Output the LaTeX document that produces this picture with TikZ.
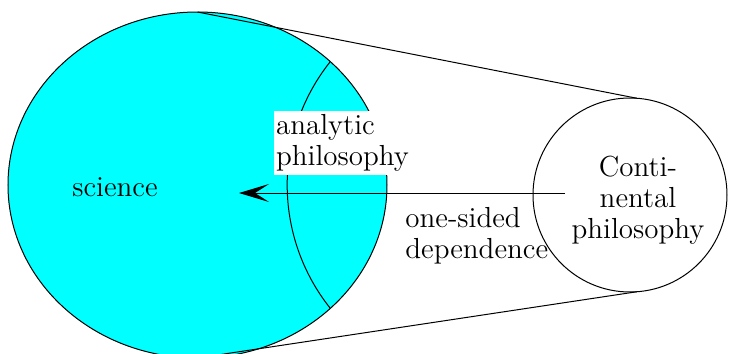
\documentclass[tikz,border=0pt]{standalone}
\usepackage{fontspec}
\usetikzlibrary{positioning,arrows.meta,shapes.geometric}
\definecolor{scicyan}{RGB}{0,255,255}

\begin{document}
\begin{tikzpicture}[
    x=0.5pt, y=0.5pt,
    font=\rmfamily\fontsize{14.5}{15.5}\selectfont,
    thinline/.style={line width=0.5pt},
    region/.style={
        draw,
        thinline,
        inner sep=0pt,
        outer sep=0pt
    },
    sciregion/.style={region, ellipse, fill=scicyan,
        minimum width=189.5pt, minimum height=173pt},
    contregion/.style={region, circle, minimum size=97pt},
    txt/.style={inner sep=0pt, align=left},
    arrow/.style={-{Stealth[length=15pt, width=9pt, inset=7pt]}, thinline}
]
\useasboundingbox (0,0) rectangle (730,-354);

% ============================================================
% SCIENCE AND CONTINENTAL PHILOSOPHY
% ============================================================
\node[sciregion] (sci) at (197.5,-185) {};
\node[contregion] (cont) at (630,-195) {};

% boundary of analytic philosophy inside science
\draw[thinline] (330,-62) arc[start angle=141.6, end angle=218.4, radius=99pt];

% tangent lines
\draw[thinline] (sci.north) -- (cont.86);
\draw[thinline] (sci.south) -- (cont.-86);

% ============================================================
% LABELS
% ============================================================
\node[txt, anchor=base] (scitext) at (115,-196) {science};
\node[txt, fill=white, inner xsep=1pt, inner ysep=1.5pt] (anatext)
    at (342.5,-143) {analytic\\philosophy};
\node[txt, align=center] (conttext) at (638,-200) {Conti-\\nental\\philosophy};
\node[txt, anchor=west] (deptext) at (405,-236) {one-sided\\dependence};

% one-sided dependence
\coordinate (depstart) at (565,-193);
\coordinate (deptip) at (239,-193);
\draw[arrow] (depstart) -- (deptip);

\end{tikzpicture}
\end{document}
